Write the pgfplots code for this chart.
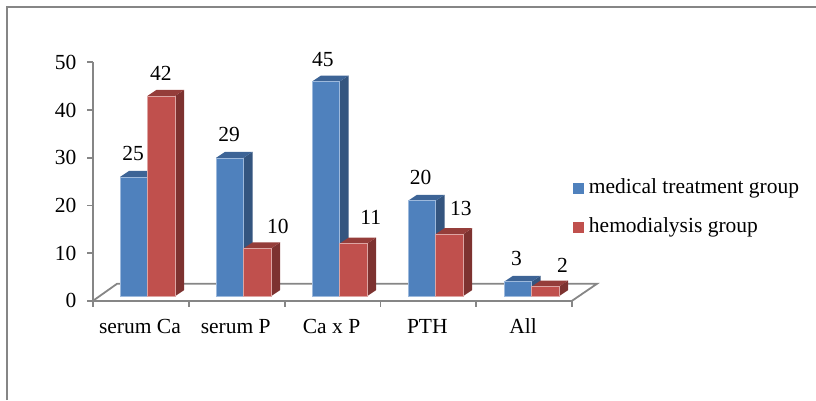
\documentclass[border=0pt]{standalone}
\usepackage{pgfplots}
\pgfplotsset{compat=1.18}
\usepackage{fontspec}
\setmainfont{Liberation Serif}
\definecolor{blueF}{HTML}{4F81BD}
\definecolor{blueS}{HTML}{34557F}
\definecolor{blueT}{HTML}{3D6496}
\definecolor{redF}{HTML}{C0504D}
\definecolor{redS}{HTML}{7D3230}
\definecolor{redT}{HTML}{953D3A}
\definecolor{axisgray}{HTML}{868686}
\definecolor{edgeB}{HTML}{9DB9DC}
\definecolor{edgeR}{HTML}{DDA5A3}

% Bar geometry, in axis units: category x positions and the floor offset under each bar.
\def\barw{0.2875}
\def\depthx{0.094}
\def\depthy{1.26}
\def\baseoff{0.98}

% #1 left edge, #2 value, #3 colour stem, #4 edge colour, #5 label x, #6 label gap
\newcommand\solidbar[6]{%
  \pgfmathsetmacro\xa{#1}%
  \pgfmathsetmacro\xb{#1+\barw}%
  \pgfmathsetmacro\xc{\xb+\depthx}%
  \pgfmathsetmacro\xd{\xa+\depthx}%
  \pgfmathsetmacro\ya{\baseoff}%
  \pgfmathsetmacro\yb{\baseoff+#2}%
  \pgfmathsetmacro\yc{\yb+\depthy}%
  \pgfmathsetmacro\ye{\ya+\depthy}%
  \pgfmathsetmacro\yl{\yb+#6}%
  \edef\temp{%
    \noexpand\addplot[fill=#3S,draw=none,forget plot] coordinates
      {(\xb,\ya)(\xc,\ye)(\xc,\yc)(\xb,\yb)} -- cycle;
    \noexpand\addplot[fill=#3T,draw=none,forget plot] coordinates
      {(\xa,\yb)(\xb,\yb)(\xc,\yc)(\xd,\yc)} -- cycle;
    \noexpand\addplot[fill=#3F,draw=#4,line width=0.7pt,forget plot] coordinates
      {(\xa,\ya)(\xb,\ya)(\xb,\yb)(\xa,\yb)} -- cycle;
    \noexpand\node[font=\noexpand\vfs,inner sep=0pt] at (axis cs:#5,\yl) {#2};
  }\temp
}
\newcommand\vfs{\fontsize{21.5}{25}\selectfont}

\begin{document}
\begin{tikzpicture}[x=1pt,y=1pt]
  \useasboundingbox (0,0) rectangle (816,400);
  \draw[axisgray,line width=2pt] (6.5,0) -- (6.5,392.5) -- (816,392.5);
  \begin{axis}[
    at={(93pt,99.2pt)}, anchor=origin,
    x=95.8pt, y=4.768pt,
    xmin=0, xmax=5, ymin=0, ymax=50,
    clip=false,
    axis x line*=bottom, axis y line*=left,
    axis line style={axisgray,line width=2.4pt,-},
    x axis line style={-}, y axis line style={-},
    xtick={0,1,2,3,4,5},
    xticklabels={},
    extra x ticks={0.49,1.49,2.49,3.49,4.49},
    extra x tick labels={serum Ca,serum P,Ca x P,PTH,All},
    extra x tick style={
      major tick length=0pt,
      xticklabel style={font=\vfs,yshift=-18.5pt,anchor=north,text height=14pt,text depth=5pt,inner sep=0pt},
    },
    ytick={0,10,20,30,40,50},
    tick style={axisgray,line width=1.8pt},
    major tick length=6pt,
    tick align=outside,
    yticklabel style={font=\vfs,/pgf/number format/assume math mode=true,xshift=-7pt},
    legend style={
      at={(axis cs:5.01,25.4)}, anchor=north west,
      draw=none, fill=none, font=\vfs,
      row sep=20pt, inner sep=0pt, outer sep=0pt,
      /tikz/every even column/.append style={column sep=0pt},
      nodes={inner sep=0pt,anchor=base west,text depth=5pt,text height=14pt},
    },
    legend cell align=left,
    legend image code/.code={
      \fill[#1] (0pt,-0.5pt) rectangle (11pt,10.5pt);
    },
  ]
    % Floor of the chart
    \addplot[axisgray,line width=1.8pt,forget plot] coordinates
      {(0,0)(0.25,3.56)(5.26,3.56)(5,0)};

    \addlegendimage{fill=blueF,draw=none}
    \addlegendentry{\hspace{5pt}medical treatment group}
    \addlegendimage{fill=redF,draw=none}
    \addlegendentry{\hspace{5pt}hemodialysis group}

    % left edge, value, colour, edge, label x, label gap
    \solidbar{0.282}{25}{blue}{edgeB}{0.42}{4.9}
    \solidbar{0.5695}{42}{red}{edgeR}{0.709}{4.8}
    \solidbar{1.284}{29}{blue}{edgeB}{1.42}{5.0}
    \solidbar{1.5715}{10}{red}{edgeR}{1.93}{4.7}
    \solidbar{2.286}{45}{blue}{edgeB}{2.40}{4.6}
    \solidbar{2.5735}{11}{red}{edgeR}{2.90}{5.6}
    \solidbar{3.289}{20}{blue}{edgeB}{3.42}{4.9}
    \solidbar{3.5765}{13}{red}{edgeR}{3.84}{5.4}
    \solidbar{4.29}{3}{blue}{edgeB}{4.42}{4.8}
    \solidbar{4.5775}{2}{red}{edgeR}{4.90}{4.5}
  \end{axis}
\end{tikzpicture}
\end{document}
